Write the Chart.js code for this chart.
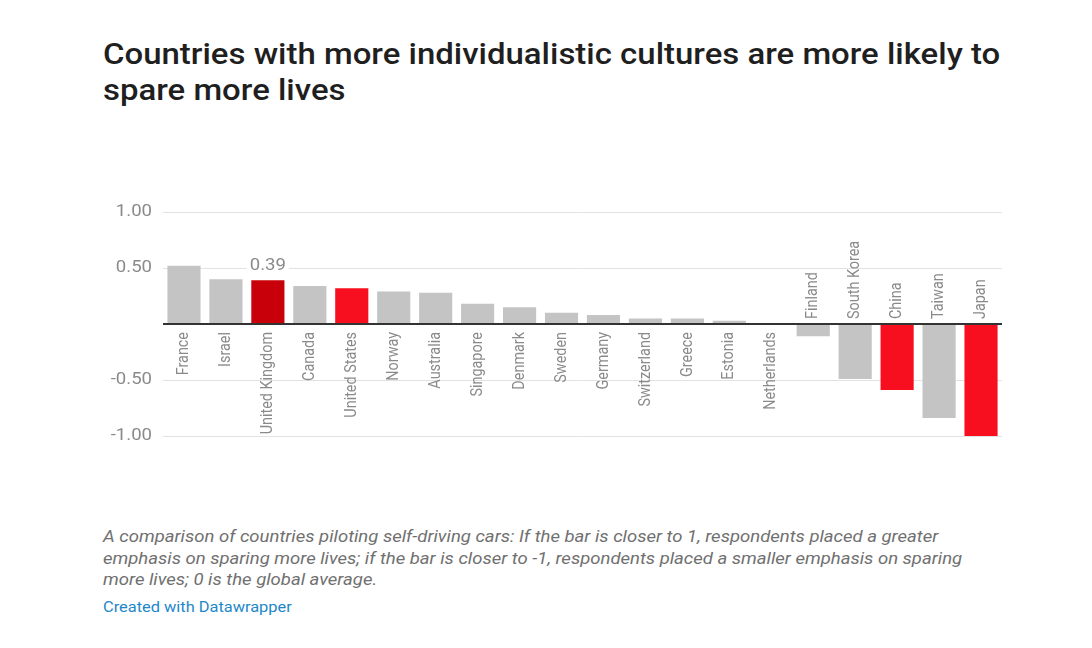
<!DOCTYPE html>
<html>
<head>
<meta charset="utf-8">
<script src="https://cdn.jsdelivr.net/npm/chart.js@4"></script>
<style>
  html, body { margin: 0; padding: 0; background: #fff; width: 1092px; height: 648px; overflow: hidden; font-family: Roboto, "Noto Sans", sans-serif; }
  #title { position: absolute; left: 103px; top: 36px; width: 810px; font-size: 29px; line-height: 36px; font-weight: 500; color: #1f1f1f; transform: scaleX(1.136); transform-origin: 0 0; }
  #chartwrap { position: absolute; left: 0; top: 190px; width: 1092px; height: 270px; }
  #notes { position: absolute; left: 103px; top: 526px; width: 760px; font-size: 16px; line-height: 21.5px; font-style: italic; color: #707070; transform: scaleX(1.157); transform-origin: 0 0; }
  #credit { position: absolute; left: 103px; top: 599px; font-size: 14px; color: #1d87c8; transform: scaleX(1.17); transform-origin: 0 0; white-space: nowrap; }
</style>
</head>
<body>
<div id="title">Countries with more individualistic cultures are more likely to spare more lives</div>
<div id="chartwrap"><canvas id="c"></canvas></div>
<div id="notes">A comparison of countries piloting self-driving cars: If the bar is closer to 1, respondents placed a greater emphasis on sparing more lives; if the bar is closer to -1, respondents placed a smaller emphasis on sparing more lives; 0 is the global average.</div>
<div id="credit">Created with Datawrapper</div>
<script>
const countries = ["France","Israel","United Kingdom","Canada","United States","Norway","Australia","Singapore","Denmark","Sweden","Germany","Switzerland","Greece","Estonia","Netherlands","Finland","South Korea","China","Taiwan","Japan"];
const values = [0.52, 0.40, 0.39, 0.34, 0.32, 0.29, 0.28, 0.18, 0.15, 0.10, 0.08, 0.05, 0.05, 0.03, 0.00, -0.11, -0.49, -0.59, -0.84, -1.00];
const barColors = ["#c4c4c4","#c4c4c4","#c8000a","#c4c4c4","#f80f1f","#c4c4c4","#c4c4c4","#c4c4c4","#c4c4c4","#c4c4c4","#c4c4c4","#c4c4c4","#c4c4c4","#c4c4c4","#c4c4c4","#c4c4c4","#c4c4c4","#f80f1f","#c4c4c4","#f80f1f"];
const yTicks = [-1, -0.5, 0, 0.5, 1];
const labelledIndex = 2;
const STRETCH = 1.16;

const catLabels = {
  id: 'catLabels',
  afterDatasetsDraw(chart) {
    const ctx = chart.ctx, x = chart.scales.x, y = chart.scales.y;
    const zero = y.getPixelForValue(0);
    ctx.save();
    // zero baseline on top
    ctx.strokeStyle = '#333';
    ctx.lineWidth = 2;
    ctx.beginPath();
    ctx.moveTo(chart.chartArea.left, zero);
    ctx.lineTo(chart.chartArea.right, zero);
    ctx.stroke();
    // y tick labels (horizontally stretched like the reference)
    ctx.font = '16px Roboto';
    ctx.fillStyle = '#8a8a8a';
    ctx.textBaseline = 'middle';
    ctx.textAlign = 'right';
    yTicks.forEach(v => {
      if (v === 0) return;
      ctx.save();
      ctx.translate(152, y.getPixelForValue(v));
      ctx.scale(STRETCH, 1);
      ctx.fillText(v.toFixed(2), 0, 0);
      ctx.restore();
    });
    // category labels
    ctx.font = '14.4px Roboto';
    countries.forEach((name, i) => {
      const cx = x.getPixelForValue(i);
      ctx.save();
      if (values[i] >= 0) {
        ctx.translate(cx, zero + 8);
        ctx.rotate(-Math.PI / 2);
        ctx.scale(1, STRETCH);
        ctx.textAlign = 'right';
      } else {
        ctx.translate(cx, zero - 5);
        ctx.rotate(-Math.PI / 2);
        ctx.scale(1, STRETCH);
        ctx.textAlign = 'left';
      }
      ctx.fillText(name, 0, 0);
      ctx.restore();
    });
    // value label
    const meta = chart.getDatasetMeta(0).data[labelledIndex];
    const txt = values[labelledIndex].toFixed(2);
    ctx.font = '16px Roboto';
    const w = ctx.measureText(txt).width * STRETCH;
    const ty = meta.y - 14;
    ctx.fillStyle = '#fff';
    ctx.fillRect(meta.x - w / 2 - 3, ty - 9, w + 6, 18);
    ctx.fillStyle = '#8a8a8a';
    ctx.textAlign = 'center';
    ctx.save();
    ctx.translate(meta.x, ty);
    ctx.scale(STRETCH, 1);
    ctx.fillText(txt, 0, 0);
    ctx.restore();
    ctx.restore();
  }
};

new Chart(document.getElementById('c'), {
  type: 'bar',
  data: {
    labels: countries,
    datasets: [{ data: values, backgroundColor: barColors, categoryPercentage: 0.79, barPercentage: 1.0 }]
  },
  options: {
    responsive: true,
    maintainAspectRatio: false,
    animation: false,
    layout: { padding: { top: 22, bottom: 24, left: 0, right: 90 } },
    plugins: { legend: { display: false }, tooltip: { enabled: false } },
    scales: {
      x: { display: false },
      y: {
        min: -1, max: 1,
        afterFit(s) { s.width = 163; },
        afterBuildTicks(s) { s.ticks = yTicks.map(v => ({ value: v })); },
        border: { display: false },
        grid: { drawTicks: false, color: '#e2e2e2', lineWidth: 1 },
        ticks: { display: false }
      }
    }
  },
  plugins: [catLabels]
});
</script>
</body>
</html>
